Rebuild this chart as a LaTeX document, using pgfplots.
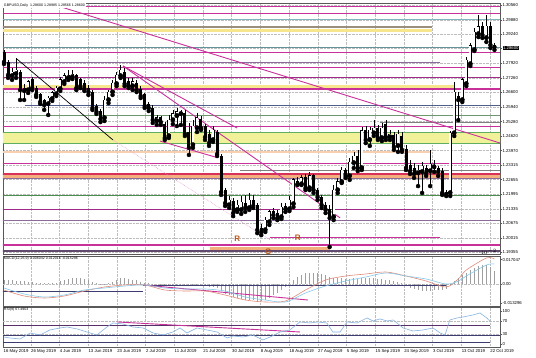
\documentclass[border=0pt]{standalone}
\usepackage{pgfplots}
\pgfplotsset{compat=1.18}
\usepackage{pgfplotstable}
\usepackage{fontspec}
\setmainfont{Liberation Sans}
\setlength{\fboxsep}{0.6pt}
\definecolor{mag}{HTML}{C8309A}
\definecolor{magd}{HTML}{A02A88}
\definecolor{purp}{HTML}{8C6A9C}
\definecolor{tealc}{HTML}{7FB6BE}
\definecolor{brn}{HTML}{9C8E7C}
\definecolor{yel}{HTML}{F7E68E}
\definecolor{yelg}{HTML}{F1F19A}
\definecolor{grn}{HTML}{5FAF5F}
\definecolor{slate}{HTML}{4F5F8A}
\definecolor{orng}{HTML}{F4B07C}
\definecolor{redm}{HTML}{D8305A}
\definecolor{rcol}{HTML}{B8561A}
\definecolor{macdred}{HTML}{E08A78}
\definecolor{macdblue}{HTML}{86C8E8}
\definecolor{rsiblue}{HTML}{86B2E0}
\definecolor{navy}{HTML}{3C3C70}
\definecolor{gridc}{HTML}{BDBDBD}

\pgfplotstableread{
i o h l c
0 1.2843 1.2853 1.2789 1.2798
1 1.2798 1.2807 1.2726 1.2739
4 1.2753 1.2762 1.2626 1.2671
5 1.2680 1.2699 1.2626 1.2667
7 1.2717 1.2730 1.2671 1.2680
8 1.2680 1.2689 1.2640 1.2649
9 1.2649 1.2658 1.2608 1.2617
10 1.2622 1.2631 1.2581 1.2603
18 1.2735 1.2744 1.2671 1.2680
19 1.2717 1.2726 1.2680 1.2689
20 1.2703 1.2717 1.2667 1.2676
21 1.2680 1.2694 1.2649 1.2662
22 1.2662 1.2671 1.2581 1.2590
23 1.2599 1.2608 1.2563 1.2572
24 1.2576 1.2585 1.2526 1.2540
30 1.2753 1.2771 1.2689 1.2699
31 1.2708 1.2726 1.2680 1.2689
33 1.2703 1.2717 1.2662 1.2671
34 1.2676 1.2689 1.2635 1.2644
35 1.2649 1.2658 1.2590 1.2599
36 1.2608 1.2617 1.2576 1.2590
37 1.2590 1.2603 1.2522 1.2535
39 1.2545 1.2554 1.2513 1.2526
40 1.2517 1.2526 1.2445 1.2454
45 1.2563 1.2581 1.2463 1.2472
46 1.2481 1.2522 1.2377 1.2409
49 1.2540 1.2554 1.2490 1.2499
50 1.2504 1.2517 1.2445 1.2458
51 1.2472 1.2490 1.2418 1.2431
53 1.2481 1.2490 1.2372 1.2381
54 1.2372 1.2381 1.2196 1.2209
55 1.2218 1.2227 1.2146 1.2159
57 1.2168 1.2182 1.2100 1.2114
60 1.2159 1.2196 1.2119 1.2137
62 1.2173 1.2196 1.2137 1.2146
63 1.2150 1.2159 1.2023 1.2037
64 1.2046 1.2064 1.2014 1.2028
67 1.2119 1.2137 1.2091 1.2105
68 1.2114 1.2128 1.2082 1.2091
70 1.2146 1.2159 1.2119 1.2132
73 1.2259 1.2277 1.2241 1.2245
75 1.2277 1.2291 1.2218 1.2227
77 1.2282 1.2291 1.2205 1.2218
78 1.2218 1.2227 1.2173 1.2186
79 1.2186 1.2196 1.2137 1.2150
80 1.2150 1.2164 1.2114 1.2128
81 1.2132 1.2150 1.1960 1.2091
85 1.2309 1.2318 1.2273 1.2282
88 1.2372 1.2400 1.2304 1.2318
90 1.2486 1.2508 1.2431 1.2445
93 1.2499 1.2513 1.2445 1.2454
95 1.2517 1.2535 1.2445 1.2458
97 1.2467 1.2481 1.2400 1.2413
99 1.2463 1.2481 1.2391 1.2400
100 1.2400 1.2422 1.2309 1.2318
101 1.2331 1.2354 1.2291 1.2304
102 1.2318 1.2341 1.2273 1.2291
105 1.2318 1.2331 1.2282 1.2295
108 1.2318 1.2327 1.2282 1.2300
109 1.2304 1.2318 1.2196 1.2205
110 1.2209 1.2218 1.2191 1.2200
113 1.2640 1.2662 1.2535 1.2626
119 1.2957 1.2979 1.2907 1.2920
121 1.2957 1.2979 1.2862 1.2875
122 1.2875 1.2884 1.2853 1.2866
}\bears

\pgfplotstableread{
i o h l c
2 1.2735 1.2771 1.2717 1.2753
3 1.2744 1.2816 1.2726 1.2762
6 1.2671 1.2717 1.2658 1.2708
11 1.2608 1.2644 1.2558 1.2635
12 1.2631 1.2667 1.2622 1.2658
13 1.2653 1.2689 1.2644 1.2680
14 1.2676 1.2730 1.2667 1.2717
15 1.2708 1.2748 1.2699 1.2735
16 1.2726 1.2762 1.2717 1.2739
17 1.2730 1.2762 1.2721 1.2744
25 1.2545 1.2644 1.2531 1.2626
26 1.2626 1.2671 1.2612 1.2662
27 1.2662 1.2717 1.2649 1.2703
28 1.2699 1.2753 1.2689 1.2739
29 1.2735 1.2785 1.2726 1.2762
32 1.2689 1.2726 1.2671 1.2708
38 1.2531 1.2558 1.2513 1.2545
41 1.2463 1.2558 1.2454 1.2535
42 1.2535 1.2581 1.2517 1.2563
43 1.2554 1.2590 1.2508 1.2572
44 1.2563 1.2581 1.2513 1.2567
47 1.2422 1.2535 1.2409 1.2508
48 1.2499 1.2567 1.2481 1.2545
52 1.2445 1.2508 1.2436 1.2490
56 1.2150 1.2191 1.2137 1.2173
58 1.2128 1.2173 1.2119 1.2150
59 1.2128 1.2191 1.2110 1.2164
61 1.2137 1.2205 1.2128 1.2173
65 1.2037 1.2096 1.2028 1.2082
66 1.2073 1.2128 1.2060 1.2119
69 1.2096 1.2159 1.2087 1.2141
71 1.2132 1.2191 1.2123 1.2173
72 1.2155 1.2273 1.2141 1.2264
74 1.2245 1.2286 1.2241 1.2273
76 1.2227 1.2300 1.2218 1.2282
82 1.2096 1.2241 1.2082 1.2218
83 1.2218 1.2273 1.2205 1.2255
84 1.2255 1.2322 1.2250 1.2309
86 1.2282 1.2363 1.2264 1.2345
87 1.2341 1.2390 1.2318 1.2372
89 1.2318 1.2504 1.2309 1.2486
91 1.2445 1.2504 1.2418 1.2490
92 1.2476 1.2535 1.2463 1.2499
94 1.2454 1.2522 1.2440 1.2499
96 1.2458 1.2490 1.2445 1.2472
98 1.2418 1.2490 1.2391 1.2472
103 1.2295 1.2331 1.2236 1.2309
104 1.2300 1.2345 1.2205 1.2327
106 1.2304 1.2400 1.2236 1.2336
107 1.2322 1.2354 1.2300 1.2331
111 1.2205 1.2486 1.2191 1.2476
112 1.2476 1.2708 1.2463 1.2662
114 1.2626 1.2726 1.2617 1.2717
115 1.2699 1.2821 1.2689 1.2807
116 1.2789 1.2884 1.2780 1.2871
117 1.2853 1.2952 1.2848 1.2934
118 1.2925 1.3011 1.2911 1.2957
120 1.2907 1.3011 1.2889 1.2961
}\bulls

\pgfplotstableread{
i h
0 0.0025
1 0.0025
2 0.0025
3 0.0020
4 0.0020
5 0.0020
6 0.0015
7 0.0015
8 0.0010
9 0.0010
10 0.0005
11 0.0005
12 0.0005
13 0.0010
14 0.0020
15 0.0030
16 0.0035
17 0.0040
18 0.0040
19 0.0040
20 0.0035
21 0.0030
22 0.0015
23 0.0005
24 0.0003
25 0.0003
26 0.0005
27 0.0015
28 0.0030
29 0.0040
30 0.0040
31 0.0035
32 0.0030
33 0.0025
34 0.0015
35 0.0010
36 0.0005
37 0.0003
38 0.0000
39 -0.0003
40 -0.0005
41 -0.0005
42 -0.0005
43 -0.0005
44 -0.0008
45 -0.0010
46 -0.0015
47 -0.0015
48 -0.0010
49 -0.0010
50 -0.0015
51 -0.0020
52 -0.0020
53 -0.0030
54 -0.0050
55 -0.0070
56 -0.0080
57 -0.0090
58 -0.0100
59 -0.0105
60 -0.0110
61 -0.0115
62 -0.0115
63 -0.0120
64 -0.0120
65 -0.0110
66 -0.0100
67 -0.0080
68 -0.0060
69 -0.0040
70 -0.0020
71 0.0005
72 0.0030
73 0.0050
74 0.0065
75 0.0075
76 0.0080
77 0.0080
78 0.0075
79 0.0070
80 0.0060
81 0.0050
82 0.0045
83 0.0040
84 0.0040
85 0.0035
86 0.0035
87 0.0040
88 0.0035
89 0.0045
90 0.0045
91 0.0045
92 0.0040
93 0.0035
94 0.0035
95 0.0030
96 0.0025
97 0.0020
98 0.0015
99 0.0005
100 -0.0010
101 -0.0025
102 -0.0035
103 -0.0045
104 -0.0050
105 -0.0050
106 -0.0050
107 -0.0045
108 -0.0040
109 -0.0040
110 -0.0035
111 -0.0010
112 0.0020
113 0.0040
114 0.0060
115 0.0080
116 0.0100
117 0.0115
118 0.0125
119 0.0130
120 0.0130
121 0.0120
122 0.0090
}\macdhist

\pgfplotstableread{
i red blue
0 -0.0042 -0.0028
5 -0.0084 -0.0070
10 -0.0098 -0.0091
15 -0.0084 -0.0077
20 -0.0049 -0.0042
25 -0.0021 -0.0028
30 -0.0007 -0.0014
35 -0.0007 -0.0007
40 -0.0042 -0.0028
45 -0.0049 -0.0035
50 -0.0049 -0.0035
55 -0.0077 -0.0049
60 -0.0112 -0.0091
65 -0.0126 -0.0112
70 -0.0119 -0.0126
75 -0.0042 -0.0063
80 0.0028 -0.0014
85 0.0056 0.0021
90 0.0070 0.0049
95 0.0084 0.0077
100 0.0056 0.0056
105 0.0021 0.0035
110 -0.0021 0.0000
113 0.0035 0.0020
115 0.0098 0.0056
120 0.0182 0.0133
122 0.0175 0.0140
}\macdlines

\pgfplotstableread{
i v
0 21.2
1.5 18.2
4.0 15.2
6.5 33.3
9.0 27.3
11.4 42.4
13.9 48.5
15.7 51.5
18.2 45.5
20.6 36.4
23.1 27.3
25.6 51.5
27.1 63.6
29.6 60.6
32.1 51.5
34.6 48.5
37.1 33.3
39.6 27.3
42.0 36.4
43.8 48.5
45.5 33.3
48.0 48.5
50.5 42.4
53.0 36.4
55.5 18.2
57.0 24.2
59.5 21.2
61.9 27.3
64.4 12.1
66.2 21.2
68.7 36.4
71.1 42.4
73.6 66.7
76.1 63.6
77.9 66.7
80.3 63.6
81.8 36.4
83.6 36.4
85.3 66.7
87.8 63.6
90.3 78.8
91.8 69.7
93.5 75.8
95.3 69.7
96.8 72.7
99.3 48.5
101.7 39.4
104.2 42.4
106.7 48.5
108.5 33.3
109.7 27.3
110.9 72.7
112.7 78.8
114.2 81.8
116.7 87.9
118.4 93.9
120.1 78.8
121.0 67.5
}\rsi

\pgfplotsset{
  mt/.style={
    scale only axis, width=497bp, xmin=-0.25, xmax=123.38, clip=true,
    axis line style={black!65, line width=0.4bp},
    xtick={-0.2,6.64,13.78,20.92,28.06,35.2,42.34,49.48,56.62,63.76,70.9,78.04,85.18,92.32,99.46,106.6,113.74,120.88},
    xmajorgrids, ymajorgrids,
    grid style={gridc, densely dotted, line width=0.35bp},
    ticklabel style={font=\fontsize{4.3}{5}\selectfont, text=black},
    ytick pos=right, yticklabel pos=right, tick align=outside,
    major tick length=1.5bp, xtick style={draw=none},
    ytick style={black!65, line width=0.3bp},
    yticklabel style={inner sep=0.8bp, anchor=west},
  },
}

\begin{document}
\begin{tikzpicture}
\path[use as bounding box] (0,0) rectangle (536bp,358bp);

% ================= MAIN PANEL =================
\begin{axis}[mt, at={(3bp,355bp)}, anchor=north west, height=251bp,
  ymin=1.19284, ymax=1.30654,
  xticklabels={},
  ytick={1.3056,1.2988,1.2924,1.2860,1.2792,1.2726,1.2660,1.2594,1.2528,1.2462,1.2397,1.23315,1.22655,1.21995,1.21335,1.20675,1.20015,1.19355},
  yticklabels={1.30560,1.29880,1.29240,\colorbox{black}{\textcolor{white}{1.28600}},1.27920,1.27260,1.26600,1.25940,1.25280,1.24620,1.23970,1.23315,1.22655,1.21995,1.21335,1.20675,1.20015,1.19355},
]
% bands
\addplot[fill=yel, draw=none, forget plot] coordinates {(-1,1.2948) (106.5,1.2948) (106.5,1.2934) (-1,1.2934)} -- cycle;
\addplot[fill=yel, draw=none, forget plot] coordinates {(-1,1.2694) (112,1.2694) (112,1.2671) (-1,1.2671)} -- cycle;
\addplot[fill=yelg, draw=none, forget plot] coordinates {(-1,1.2481) (125,1.2481) (125,1.2431) (-1,1.2431)} -- cycle;
\addplot[fill=orng!60, draw=none, forget plot] coordinates {(-1,1.2395) (106,1.2395) (106,1.2387) (-1,1.2387)} -- cycle;
\addplot[fill=orng, draw=none, forget plot] coordinates {(-1,1.2291) (125,1.2291) (125,1.2273) (-1,1.2273)} -- cycle;
\addplot[fill=orng, draw=none, forget plot] coordinates {(51.2,1.1960) (81.1,1.1960) (81.1,1.1942) (51.2,1.1942)} -- cycle;
% horizontal levels
\addplot[mag, line width=0.7bp, forget plot] coordinates {(-1,1.3052) (125,1.3052)};
\addplot[mag, line width=0.7bp, forget plot] coordinates {(-1,1.3020) (125,1.3020)};
\addplot[tealc, line width=0.6bp, forget plot] coordinates {(-1,1.2993) (125,1.2993)};
\addplot[brn, line width=1.2bp, forget plot] coordinates {(-1,1.2957) (106.5,1.2957)};
\addplot[tealc!80!black, line width=0.6bp, forget plot] coordinates {(-1,1.2866) (125,1.2866)};
\addplot[mag, line width=1.0bp, forget plot] coordinates {(-1,1.2843) (125,1.2843)};
\addplot[purp, line width=0.6bp, forget plot] coordinates {(-1,1.2798) (108.5,1.2798)};
\addplot[mag, line width=0.7bp, forget plot] coordinates {(-1,1.2776) (125,1.2776)};
\addplot[magd, line width=0.7bp, forget plot] coordinates {(-1,1.2730) (125,1.2730)};
\addplot[mag, line width=1.1bp, forget plot] coordinates {(-1,1.2676) (125,1.2676)};
\addplot[slate, line width=0.7bp, forget plot] coordinates {(5.2,1.2603) (125,1.2603)};
\addplot[grn!50!gray, line width=0.6bp, forget plot] coordinates {(-1,1.2558) (125,1.2558)};
\addplot[gray, line width=0.5bp, forget plot] coordinates {(93.5,1.2526) (125,1.2526)};
\addplot[mag, line width=1.1bp, forget plot] coordinates {(-1,1.2504) (125,1.2504)};
\addplot[grn, line width=0.6bp, forget plot] coordinates {(-1,1.2481) (125,1.2481)};
\addplot[grn, line width=0.6bp, forget plot] coordinates {(-1,1.2431) (125,1.2431)};
\addplot[mag, line width=0.7bp, forget plot] coordinates {(-1,1.2341) (125,1.2341)};
\addplot[gray, line width=0.5bp, forget plot] coordinates {(58.7,1.2309) (125,1.2309)};
\addplot[redm, line width=1.1bp, forget plot] coordinates {(-1,1.2291) (125,1.2291)};
\addplot[purp, line width=0.6bp, forget plot] coordinates {(-1,1.2273) (125,1.2273)};
\addplot[grn!80!black, line width=0.6bp, forget plot] coordinates {(-1,1.2196) (125,1.2196)};
\addplot[magd, line width=0.7bp, forget plot] coordinates {(-1,1.2132) (106,1.2132)};
\addplot[purp, line width=0.6bp, forget plot] coordinates {(-1,1.2082) (125,1.2082)};
\addplot[mag, line width=0.7bp, forget plot] coordinates {(66.2,1.2005) (108.5,1.2005)};
\addplot[mag, line width=1.1bp, forget plot] coordinates {(-1,1.1969) (125,1.1969)};
\addplot[purp!70!black, line width=1.2bp, forget plot] coordinates {(-1,1.1942) (125,1.1942)};
% trend lines
\addplot[mag, line width=0.9bp, forget plot] coordinates {(12.7,1.3056) (123.4,1.2431)};
\addplot[black, line width=0.7bp, forget plot] coordinates {(3.2,1.2812) (27.1,1.2445)};
\addplot[mag!50, densely dotted, line width=0.6bp, forget plot] coordinates {(27.1,1.2445) (66.2,1.1992)};
\addplot[mag, line width=0.9bp, forget plot] coordinates {(29.6,1.2780) (58,1.2499)};
\addplot[mag, line width=0.9bp, forget plot] coordinates {(29.6,1.2780) (83.6,1.2092)};
\addplot[mag, line width=0.9bp, forget plot] coordinates {(38.8,1.2440) (52.5,1.2368)};
% wicks
\addplot[only marks, mark=none, forget plot, error bars/.cd, y dir=plus, y explicit, error mark=none,
  error bar style={line width=0.5bp, draw=black, line cap=butt}]
  table[x=i, y=l, y error plus expr=\thisrow{h}-\thisrow{l}] {\bears};
\addplot[only marks, mark=none, forget plot, error bars/.cd, y dir=plus, y explicit, error mark=none,
  error bar style={line width=0.5bp, draw=black, line cap=butt}]
  table[x=i, y=l, y error plus expr=\thisrow{h}-\thisrow{l}] {\bulls};
% bodies: bear from close up to open, bull from open up to close
\addplot[only marks, mark=none, forget plot, error bars/.cd, y dir=plus, y explicit, error mark=none,
  error bar style={line width=3.0bp, draw=black, line cap=butt}]
  table[x=i, y=c, y error plus expr=\thisrow{o}-\thisrow{c}+0.0002] {\bears};
\addplot[only marks, mark=none, forget plot, error bars/.cd, y dir=plus, y explicit, error mark=none,
  error bar style={line width=3.0bp, draw=black, line cap=butt}]
  table[x=i, y=o, y error plus expr=\thisrow{c}-\thisrow{o}+0.0002] {\bulls};
\addplot[only marks, mark=none, forget plot, error bars/.cd, y dir=plus, y explicit, error mark=none,
  error bar style={line width=2.0bp, draw=white, line cap=butt}]
  table[x=i, y expr=\thisrow{o}+0.00025, y error plus expr=\thisrow{c}-\thisrow{o}-0.0003] {\bulls};
% labels
\node[text=rcol, font=\bfseries\fontsize{8}{8}\selectfont] at (axis cs:58,1.1996) {R};
\node[text=rcol, font=\bfseries\fontsize{8}{8}\selectfont] at (axis cs:73.1,1.2001) {R};
\node[text=rcol, font=\bfseries\fontsize{8}{8}\selectfont] at (axis cs:65.7,1.1940) {G};
\node[anchor=north west, inner sep=0.8bp, font=\fontsize{3.6}{4}\selectfont, fill=white] at (rel axis cs:0,1) {GBPUSD,Daily\ \ 1.28600 1.28985 1.28566 1.28600};
\end{axis}

% ================= MACD PANEL =================
\begin{axis}[mt, at={(3bp,102bp)}, anchor=north west, height=50bp,
  ymin=-0.0154, ymax=0.0196, ymajorgrids=false,
  xticklabels={},
  ytick={0.017047,0,-0.013296},
  yticklabels={0.017047,0.00,-0.013296},
]
\addplot[gridc, densely dotted, line width=0.4bp, forget plot] coordinates {(-1,0) (125,0)};
\addplot[ycomb, gray!75, line width=1.0bp, mark=none, forget plot] table[x=i, y=h] {\macdhist};
\addplot[navy, line width=0.8bp, forget plot] coordinates {(-1,-0.0049) (34.6,-0.0049)};
\addplot[navy, line width=0.8bp, forget plot] coordinates {(34.6,-0.0007) (110,-0.0007)};
\addplot[mag, line width=0.9bp, forget plot] coordinates {(34.6,-0.0007) (75.6,-0.0112)};
\addplot[macdred, line width=0.6bp, smooth, forget plot] table[x=i, y=red] {\macdlines};
\addplot[macdblue, line width=0.6bp, smooth, forget plot] table[x=i, y=blue] {\macdlines};
\node[anchor=north west, inner sep=0.8bp, font=\fontsize{3.6}{4}\selectfont] at (rel axis cs:0,1) {MACD(12,26,9) 0.006042 0.012016 -0.015296};
\end{axis}

% ================= RSI PANEL =================
\begin{axis}[mt, at={(3bp,51bp)}, anchor=north west, height=40bp,
  ymin=-9.1, ymax=112, ymajorgrids=false,
  xticklabels={16 May 2019,26 May 2019,4 Jun 2019,13 Jun 2019,23 Jun 2019,2 Jul 2019,11 Jul 2019,21 Jul 2019,30 Jul 2019,8 Aug 2019,18 Aug 2019,27 Aug 2019,5 Sep 2019,15 Sep 2019,24 Sep 2019,3 Oct 2019,13 Oct 2019,22 Oct 2019},
  xticklabel style={anchor=north west, inner sep=0.8bp, xshift=-0.5bp},
  ytick={100,70,30,0},
  yticklabels={100,70,30,0},
]
\addplot[gridc, densely dotted, line width=0.4bp, forget plot] coordinates {(-1,70) (125,70)};
\addplot[gridc, densely dotted, line width=0.4bp, forget plot] coordinates {(-1,30) (125,30)};
\addplot[navy!80!purple, line width=0.9bp, forget plot] coordinates {(-1,57.6) (121,57.6)};
\addplot[navy, line width=0.9bp, forget plot] coordinates {(-1,27.3) (125,27.3)};
\addplot[navy, line width=0.9bp, forget plot] coordinates {(-1,6.1) (121,6.1)};
\addplot[mag, line width=0.9bp, forget plot] coordinates {(28.1,66.7) (73.6,36.4)};
\addplot[rsiblue, line width=0.6bp, forget plot] table[x=i, y=v] {\rsi};
\node[anchor=north west, inner sep=0.8bp, font=\fontsize{3.6}{4}\selectfont] at (rel axis cs:0,1) {RSI(9) 67.4903};
\end{axis}
\end{tikzpicture}
\end{document}
